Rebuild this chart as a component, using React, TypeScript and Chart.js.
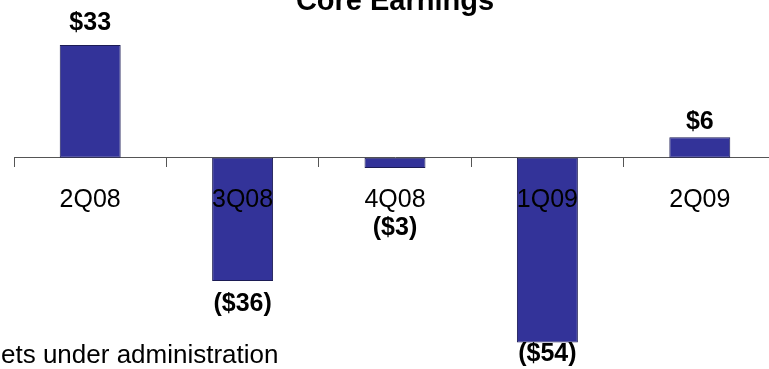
import React, { useEffect, useRef } from "react";
import { Chart, registerables } from "chart.js";

Chart.register(...registerables);

// Quarterly core earnings ($ millions)
const quarters = ["2Q08", "3Q08", "4Q08", "1Q09", "2Q09"];
const coreEarnings = [33, -36, -3, -54, 6];
const valueLabels = ["$33", "($36)", "($3)", "($54)", "$6"];
// vertical nudge of each value label from the end of its bar (px)
const labelOffsets = [-22, 23, 60, 12, -15];

const chartTitle = "Core Earnings";
const footnote = "ets under administration";

const FONT = "'Liberation Sans', Arial, sans-serif";

const labelsPlugin = {
  id: "valueLabels",
  afterDraw(chart: any) {
    const { ctx, chartArea } = chart;
    const meta = chart.getDatasetMeta(0);
    ctx.save();
    ctx.fillStyle = "#000";
    ctx.font = `bold 25px ${FONT}`;
    ctx.textAlign = "center";
    ctx.textBaseline = "middle";
    meta.data.forEach((bar: any, i: number) => {
      ctx.fillText(valueLabels[i], bar.x, bar.y + labelOffsets[i]);
    });

    // title, partly above the top edge
    ctx.font = `bold 29px ${FONT}`;
    ctx.textBaseline = "alphabetic";
    ctx.fillText(chartTitle, (chartArea.left + chartArea.right) / 2, 10);

    // footnote at the bottom left
    ctx.font = `26px ${FONT}`;
    ctx.textAlign = "left";
    ctx.fillText(footnote, 1, 363);
    ctx.restore();
  },
};

export default function App() {
  const canvasRef = useRef<HTMLCanvasElement | null>(null);

  useEffect(() => {
    if (!canvasRef.current) return;
    const chart = new Chart(canvasRef.current, {
      type: "bar",
      data: {
        labels: quarters,
        datasets: [
          {
            data: coreEarnings,
            backgroundColor: "#333399",
            borderColor: "#1c1c55",
            borderWidth: 1,
            borderSkipped: false,
            categoryPercentage: 1,
            barPercentage: 0.4,
          },
        ],
      },
      options: {
        responsive: false,
        animation: false,
        events: [],
        layout: { padding: { top: 21, bottom: 6, left: 14, right: 4 } },
        plugins: {
          legend: { display: false },
          tooltip: { enabled: false },
          title: { display: false },
        },
        scales: {
          x: {
            position: { y: 0 },
            offset: true,
            grid: {
              offset: true,
              drawOnChartArea: false,
              drawTicks: true,
              tickLength: 9,
              color: "#555",
            },
            border: { display: true, color: "#555", width: 1 },
            ticks: {
              z: 1,
              color: "#000",
              padding: 18,
              font: { family: FONT, size: 25 },
              maxRotation: 0,
              autoSkip: false,
            },
          },
          y: {
            display: false,
            min: -60,
            max: 40,
          },
        },
      },
      plugins: [labelsPlugin],
    });
    return () => chart.destroy();
  }, []);

  return (
    <div
      style={{
        position: "absolute",
        left: 0,
        top: 0,
        width: 769,
        height: 369,
        overflow: "hidden",
        background: "#fff",
      }}
    >
      <canvas ref={canvasRef} width={780} height={369} />
    </div>
  );
}
